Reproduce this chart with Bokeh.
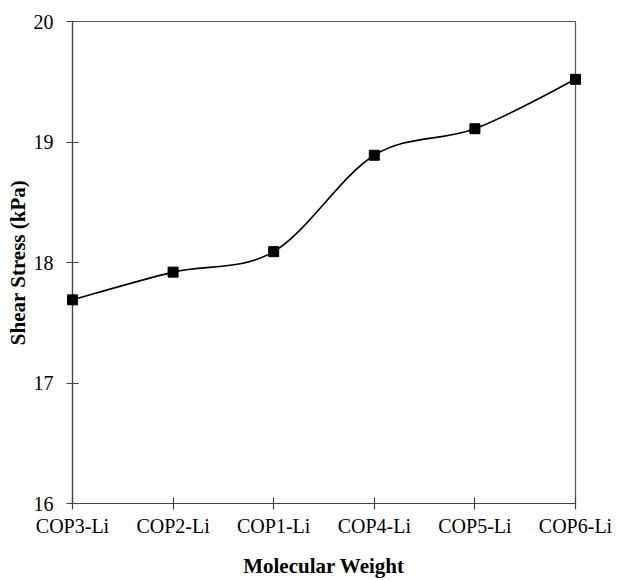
from bokeh.plotting import figure
from bokeh.models import FixedTicker
from bokeh.embed import file_html
from bokeh.resources import INLINE

categories = ["COP3-Li", "COP2-Li", "COP1-Li", "COP4-Li", "COP5-Li", "COP6-Li"]
shear_stress = [17.69, 17.92, 18.09, 18.89, 19.11, 19.52]
y_ticks = [16, 17, 18, 19, 20]

xs = list(range(len(categories)))
ys = shear_stress

# Smoothed (Catmull-Rom style) bezier segments through the data points
x0, y0, x1, y1, cx0, cy0, cx1, cy1 = [], [], [], [], [], [], [], []
n = len(xs)
for i in range(n - 1):
    ip = max(i - 1, 0)
    i2 = min(i + 2, n - 1)
    x0.append(xs[i]); y0.append(ys[i])
    x1.append(xs[i + 1]); y1.append(ys[i + 1])
    cx0.append(xs[i] + (xs[i + 1] - xs[ip]) / 6.0)
    cy0.append(ys[i] + (ys[i + 1] - ys[ip]) / 6.0)
    cx1.append(xs[i + 1] - (xs[i2] - xs[i]) / 6.0)
    cy1.append(ys[i + 1] - (ys[i2] - ys[i]) / 6.0)

FONT = "Liberation Serif"

p = figure(width=619, height=580, x_range=(0, 5), y_range=(16, 20),
           output_backend="svg", toolbar_location=None,
           min_border_left=72, min_border_right=44, min_border_top=21, min_border_bottom=76)

p.grid.visible = False
p.outline_line_color = "#555555"
p.outline_line_width = 1.2
p.background_fill_color = "white"
p.border_fill_color = "white"

p.bezier(x0=x0, y0=y0, x1=x1, y1=y1, cx0=cx0, cy0=cy0, cx1=cx1, cy1=cy1,
         line_color="black", line_width=1.6)
sq = p.scatter(xs, ys, marker="square", size=10, fill_color="black", line_color="black")
sq.level = "overlay"

p.xaxis.ticker = FixedTicker(ticks=xs)
p.xaxis.major_label_overrides = {i: c for i, c in enumerate(categories)}
p.yaxis.ticker = FixedTicker(ticks=y_ticks)

for ax in (p.xaxis, p.yaxis):
    ax.axis_line_color = "#444444"
    ax.axis_line_width = 1.2
    ax.major_tick_line_color = "#444444"
    ax.major_tick_line_width = 1.2
    ax.major_tick_in = 6
    ax.major_tick_out = 6
    ax.minor_tick_line_color = None
    ax.major_label_text_font = FONT
    ax.major_label_text_font_size = "20px"
    ax.major_label_text_color = "black"
    ax.axis_label_text_font = FONT
    ax.axis_label_text_font_size = "21px"
    ax.axis_label_text_font_style = "bold"
    ax.axis_label_text_color = "black"

p.xaxis.axis_label = "Molecular Weight"
p.yaxis.axis_label = "Shear Stress (kPa)"
p.xaxis.major_label_standoff = 5
p.xaxis.axis_label_standoff = 14
p.yaxis.major_label_standoff = 13
p.yaxis.axis_label_standoff = 1

open("out.html", "w").write(file_html(p, INLINE))
